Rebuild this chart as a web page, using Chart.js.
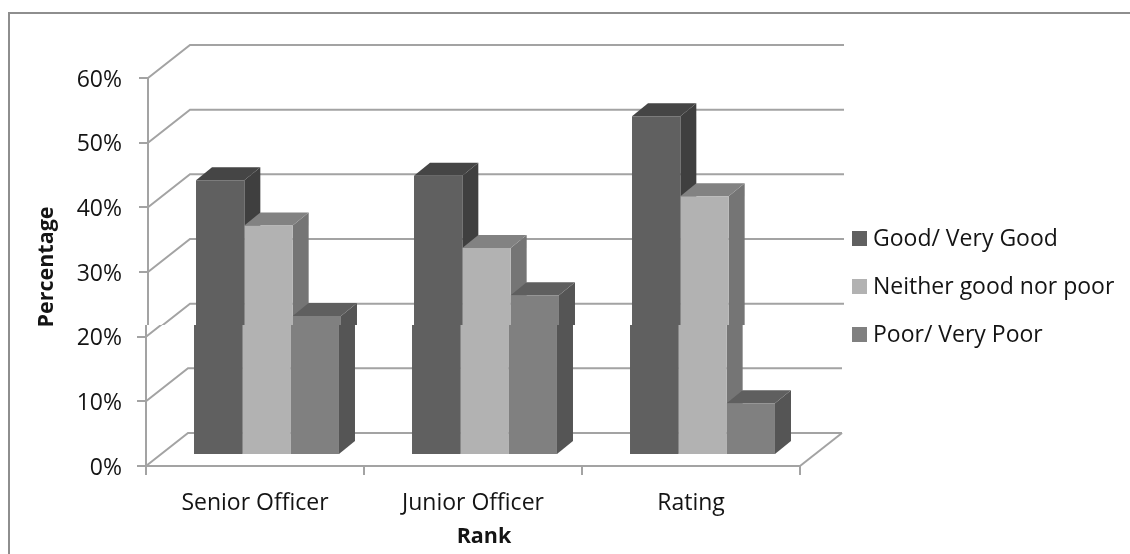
<!DOCTYPE html>
<html>
<head>
<meta charset="utf-8">
<title>Rating by rank</title>
<script src="https://cdn.jsdelivr.net/npm/chart.js@4"></script>
<style>
    html, body { margin: 0; padding: 0; background: #fff; }
    #wrap { width: 1130px; height: 554px; }
</style>
</head>
<body>
<div id="wrap"><canvas id="rankChart" width="1130" height="554"></canvas></div>
<script>
const ranks = ['Senior Officer', 'Junior Officer', 'Rating'];
const goodValues = [42.5, 43.2, 52.4];
const neitherValues = [35.5, 32, 40];
const poorValues = [21.5, 24.7, 8];
const tickValues = [0, 10, 20, 30, 40, 50, 60];

const FONT = '"Open Sans"';
const GRID = '#a3a3a3';
const INK = '#141414';

// offsets of the fake 3D box
const wallDepth = { x: 42, y: -33 };
const barDepth = { x: 16, y: -13 };
const barShift = { x: 11.5, y: -11 };

const faces = [
    { front: '#606060', side: '#3f3f3f', top: '#454545' },
    { front: '#b2b2b2', side: '#757575', top: '#828282' },
    { front: '#808080', side: '#555555', top: '#5f5f5f' }
];

function poly(ctx, pts, color) {
    ctx.fillStyle = color;
    ctx.beginPath();
    pts.forEach((p, i) => i ? ctx.lineTo(p[0], p[1]) : ctx.moveTo(p[0], p[1]));
    ctx.closePath();
    ctx.fill();
}

const boxPlugin = {
    id: 'box3d',
    beforeDatasetsDraw(chart) {
        const { ctx, scales: { x, y } } = chart;
        const left = x.left, right = x.right;

        // wall lines and the slanted lines down the left side and floor
        ctx.save();
        ctx.strokeStyle = GRID;
        ctx.lineWidth = 2;
        tickValues.forEach(v => {
            const py = y.getPixelForValue(v);
            ctx.beginPath();
            ctx.moveTo(left, py);
            ctx.lineTo(left + wallDepth.x, py + wallDepth.y);
            ctx.lineTo(right + wallDepth.x, py + wallDepth.y);
            ctx.stroke();
        });
        const floor = y.getPixelForValue(0);
        ctx.beginPath();
        ctx.moveTo(right, floor);
        ctx.lineTo(right + wallDepth.x, floor + wallDepth.y);
        ctx.stroke();
        ctx.restore();

        // side and top faces go under the library's front faces
        ctx.save();
        ctx.translate(barShift.x, barShift.y);
        ranks.forEach((_, i) => {
            chart.data.datasets.forEach((ds, d) => {
                const bar = chart.getDatasetMeta(d).data[i];
                const l = bar.x - bar.width / 2, r = bar.x + bar.width / 2;
                const dx = barDepth.x, dy = barDepth.y;
                poly(ctx, [[r, bar.y], [r + dx, bar.y + dy], [r + dx, bar.base + dy], [r, bar.base]], faces[d].side);
                poly(ctx, [[l, bar.y], [l + dx, bar.y + dy], [r + dx, bar.y + dy], [r, bar.y]], faces[d].top);
            });
        });
        ctx.restore();

        ctx.save();
        ctx.translate(barShift.x, barShift.y);
    },
    afterDatasetsDraw(chart) {
        chart.ctx.restore();
    },
    afterDraw(chart) {
        const { ctx, canvas } = chart;

        // everything above y=325 sits 2px further right
        const sx = 136, sy = 14, sw = 730, sh = 311;
        const strip = document.createElement('canvas');
        strip.width = sw;
        strip.height = sh;
        strip.getContext('2d').drawImage(canvas, sx, sy, sw, sh, 0, 0, sw, sh);
        ctx.clearRect(sx, sy, sw, sh);
        ctx.drawImage(strip, sx + 2, sy);

        // outer frame, open on the right and bottom
        ctx.fillStyle = '#8e8e8e';
        ctx.fillRect(8, 12, 1122, 2);
        ctx.fillRect(8, 12, 2, 542);

        // axis titles sit off centre
        ctx.fillStyle = INK;
        ctx.textBaseline = 'middle';
        ctx.textAlign = 'center';
        ctx.font = 'bold 21.5px ' + FONT;
        ctx.fillText('Rank', 484, 537);
        ctx.save();
        ctx.translate(47, 267);
        ctx.rotate(-Math.PI / 2);
        ctx.fillText('Percentage', 0, 0);
        ctx.restore();

        // legend
        ctx.font = '23px ' + FONT;
        ctx.textAlign = 'left';
        const rows = [238, 286, 334];
        chart.data.datasets.forEach((ds, d) => {
            ctx.fillStyle = ds.backgroundColor;
            ctx.fillRect(852, rows[d] - 7, 15, 15);
            ctx.fillStyle = INK;
            ctx.fillText(ds.label, 873, rows[d] + 1);
        });
    }
};

new Chart(document.getElementById('rankChart'), {
    type: 'bar',
    data: {
        labels: ranks,
        datasets: [
            { label: 'Good/ Very Good', data: goodValues, backgroundColor: faces[0].front },
            { label: 'Neither good nor poor', data: neitherValues, backgroundColor: faces[1].front },
            { label: 'Poor/ Very Poor', data: poorValues, backgroundColor: faces[2].front }
        ]
    },
    options: {
        responsive: false,
        animation: false,
        layout: { padding: { left: 36, right: 330, top: 78, bottom: 6 } },
        datasets: { bar: { categoryPercentage: 0.665, barPercentage: 1 } },
        plugins: { legend: { display: false }, tooltip: { enabled: false } },
        scales: {
            x: {
                afterFit: s => { s.height = 82; },
                grid: { drawOnChartArea: false, color: GRID, lineWidth: 2, tickLength: 9 },
                border: { color: GRID, width: 2 },
                ticks: { color: INK, font: { family: FONT, size: 23 }, padding: 15, maxRotation: 0, autoSkip: false }
            },
            y: {
                min: 0,
                max: 60,
                afterFit: s => { s.width = 110; },
                afterBuildTicks: s => { s.ticks = tickValues.map(v => ({ value: v })); },
                grid: { drawOnChartArea: false, color: GRID, lineWidth: 2, tickLength: 9 },
                border: { color: GRID, width: 2 },
                ticks: { color: INK, font: { family: FONT, size: 23 }, padding: 15, labelOffset: 2, callback: v => v + '%' }
            }
        }
    },
    plugins: [boxPlugin]
});
</script>
</body>
</html>
